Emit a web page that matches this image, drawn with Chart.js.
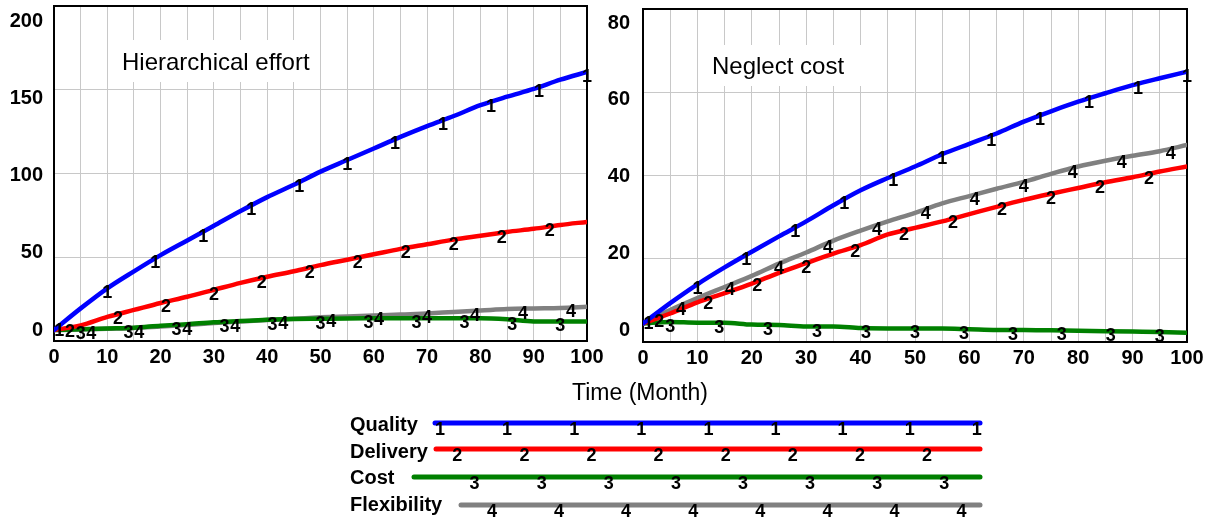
<!DOCTYPE html>
<html>
<head>
<meta charset="utf-8">
<script src="https://cdn.jsdelivr.net/npm/chart.js@4"></script>
<style>
    body { margin: 0; background: #fff; width: 1214px; height: 517px; position: relative; overflow: hidden;
           font-family: "Liberation Sans", Arial, sans-serif; }
    .panel { position: absolute; top: 0; height: 380px; }
    #timeLabel { position: absolute; left: 540px; width: 200px; top: 379px; line-height: 26px;
                 text-align: center; font-size: 23px; color: #000; }
    #legend { position: absolute; left: 0; top: 400px; }
</style>
</head>
<body>
<div class="panel" style="left:0;width:620px"><canvas id="effortChart" width="620" height="380"></canvas></div>
<div class="panel" style="left:600px;width:614px"><canvas id="neglectChart" width="614" height="380"></canvas></div>
<div id="timeLabel">Time (Month)</div>
<canvas id="legend" width="1214" height="117"></canvas>

<script>
// Time axis (months) shared by all series
const months = [0, 5, 10, 15, 20, 25, 30, 35, 40, 45, 50, 55, 60, 65, 70, 75, 80, 85, 90, 95, 100];

const seriesNames = ['Quality', 'Delivery', 'Cost', 'Flexibility'];
const seriesColors = ['#0000ff', '#ff0000', '#008000', '#808080'];

// Hierarchical effort panel
const effortQuality = [0, 14, 27, 38, 48.5, 58, 67.5, 77, 86, 94, 102.5, 110, 117.5, 125, 132, 138.5, 145.5, 151, 156, 162, 167];
const effortDelivery = [0, 3, 8.5, 13, 17.5, 21.5, 26, 30.5, 34.5, 38, 42, 45.5, 49, 52.5, 55.5, 58.5, 61, 63.5, 65.5, 68, 70];
const effortCost = [0, 0.5, 1, 1.5, 2.8, 3.8, 5, 5.8, 6.6, 7.1, 7.3, 7.5, 7.6, 7.7, 7.7, 7.7, 7.7, 7.0, 5.6, 5.5, 5.5];
const effortFlexibility = [0, 0.3, 0.8, 1.3, 2.3, 3.3, 4.5, 5.5, 6.5, 7.3, 8.2, 8.8, 9.4, 10, 10.7, 11.7, 12.6, 13.6, 14, 14.3, 15];
const effortTicks = [0, 50, 100, 150, 200];

// Neglect cost panel
const neglectQuality = [1.7, 7, 11.9, 16.3, 20.4, 24.4, 28.3, 32.5, 36.4, 39.6, 42.6, 45.8, 48.5, 51.2, 54.3, 57, 59.5, 61.7, 63.8, 65.6, 67.3];
const neglectDelivery = [1.7, 4.3, 7.2, 9.6, 12.1, 14.9, 17.4, 19.9, 22.1, 24.9, 26.6, 28.3, 30.2, 32.1, 33.9, 35.5, 37, 38.5, 39.8, 41.3, 42.6];
const neglectCost = [1.7, 2.1, 1.9, 1.9, 1.4, 1.3, 0.9, 0.9, 0.5, 0.4, 0.4, 0.4, 0.2, 0, 0, -0.1, -0.2, -0.3, -0.4, -0.5, -0.7];
const neglectFlexibility = [1.7, 5.2, 8.3, 11.2, 14.1, 17.3, 20.2, 23.3, 25.9, 28.3, 30.5, 33, 34.9, 36.8, 38.6, 40.7, 42.6, 44.1, 45.4, 46.6, 48.2];
const neglectTicks = [0, 20, 40, 60, 80];

const FONT = '"Liberation Sans", Arial, sans-serif';
const GRID = '#c8c8c8';
const CLEAR = 'rgba(0,0,0,0)';

// Linear interpolation along a series
function valueAt(values, t) {
    for (let k = 1; k < months.length; k++) {
        if (t <= months[k]) {
            const f = (t - months[k - 1]) / (months[k] - months[k - 1]);
            return values[k - 1] + f * (values[k] - values[k - 1]);
        }
    }
    return values[values.length - 1];
}

// Vensim-style series numbers along each line
const lineNumbers = {
    id: 'lineNumbers',
    afterDatasetsDraw(chart) {
        const ctx = chart.ctx;
        const xs = chart.scales.x, ys = chart.scales.y;
        ctx.save();
        ctx.font = 'bold 18px ' + FONT;
        ctx.fillStyle = '#000';
        ctx.textAlign = 'center';
        ctx.textBaseline = 'middle';
        chart.data.datasets.forEach((ds, i) => {
            for (let t = 1 + 2 * i; t <= 100; t += 9) {
                const v = valueAt(ds.values, t);
                ctx.fillText(String(i + 1), xs.getPixelForValue(t), ys.getPixelForValue(v) + 5);
            }
        });
        ctx.restore();
    }
};

// White caption box inside the plot
const captionBox = {
    id: 'captionBox',
    beforeDatasetsDraw(chart, args, opts) {
        const a = chart.chartArea, ctx = chart.ctx;
        ctx.save();
        ctx.fillStyle = '#fff';
        ctx.fillRect(a.left + opts.box[0], a.top + opts.box[1], opts.box[2], opts.box[3]);
        ctx.font = '24px ' + FONT;
        ctx.fillStyle = '#000';
        ctx.textBaseline = 'alphabetic';
        ctx.fillText(opts.text, a.left + opts.textX, a.top + opts.textY);
        ctx.restore();
    }
};

function makeChart(id, caption, series, ticks, dataMin, dataMax, size) {
    const tickFont = { family: FONT, size: 20, weight: 'bold' };
    const top = ticks[ticks.length - 1];
    return new Chart(document.getElementById(id), {
        type: 'line',
        data: {
            datasets: series.map((vals, i) => ({
                label: seriesNames[i],
                values: vals,
                data: months.map((m, k) => ({ x: m, y: vals[k] })),
                borderColor: seriesColors[i],
                borderWidth: 4.5,
                pointRadius: 0,
                cubicInterpolationMode: 'monotone',
                borderCapStyle: 'round',
                borderJoinStyle: 'round'
            }))
        },
        options: {
            responsive: false,
            animation: false,
            devicePixelRatio: 1,
            layout: { padding: { left: 0, top: size.top, right: size.right, bottom: 0 } },
            plugins: {
                legend: { display: false },
                tooltip: { enabled: false },
                captionBox: caption
            },
            scales: {
                x: {
                    type: 'linear', position: 'bottom', min: 0, max: 100,
                    ticks: {
                        stepSize: 5, autoSkip: false, maxRotation: 0, padding: 4, color: '#000', font: tickFont,
                        callback: v => (v % 10 === 0 ? v : '')
                    },
                    grid: {
                        drawTicks: false, lineWidth: 1,
                        color: c => (c.tick && (c.tick.value === 0 || c.tick.value === 100)) ? CLEAR : GRID
                    },
                    border: { color: '#000', width: 2 },
                    afterFit: s => { s.height = size.xHeight; s.paddingLeft = 0; s.paddingRight = 0; }
                },
                y: {
                    position: 'left', min: dataMin, max: dataMax,
                    afterBuildTicks: s => { s.ticks = ticks.map(v => ({ value: v })); },
                    ticks: { padding: size.yPad, color: '#000', font: tickFont },
                    grid: { display: false, drawTicks: false },
                    border: { color: '#000', width: 2 },
                    afterFit: s => { s.width = size.yWidth; s.paddingTop = 0; s.paddingBottom = 0; }
                },
                yGrid: {
                    position: 'right', min: 0, max: top,
                    ticks: { display: false, stepSize: top / 4 },
                    grid: {
                        drawTicks: false, lineWidth: 1,
                        color: c => (c.tick && (c.tick.value === 0 || c.tick.value === top)) ? CLEAR : GRID
                    },
                    border: { color: '#000', width: 2 },
                    afterFit: s => { s.width = 0; s.paddingTop = 0; s.paddingBottom = 0; }
                },
                xTop: {
                    type: 'linear', position: 'top', min: 0, max: 100,
                    ticks: { display: false },
                    grid: { display: false, drawTicks: false },
                    border: { color: '#000', width: 2 },
                    afterFit: s => { s.height = 0; s.paddingLeft = 0; s.paddingRight = 0; }
                }
            }
        },
        plugins: [captionBox, lineNumbers]
    });
}

makeChart('effortChart',
    { text: 'Hierarchical effort', box: [58, 34, 206, 42], textX: 68, textY: 64 },
    [effortQuality, effortDelivery, effortCost, effortFlexibility],
    effortTicks, -7.1, 209.7,
    { top: 6, right: 33, xHeight: 39, yWidth: 54, yPad: 11 });

makeChart('neglectChart',
    { text: 'Neglect cost', box: [62, 36, 167, 41], textX: 69, textY: 65 },
    [neglectQuality, neglectDelivery, neglectCost, neglectFlexibility],
    neglectTicks, -3.13, 83.65,
    { top: 9, right: 27, xHeight: 38, yWidth: 43, yPad: 13 });

// Legend below the charts
function drawLegend() {
    const ctx = document.getElementById('legend').getContext('2d');
    const lineY = [23, 49, 77, 105];
    const textBase = [31, 58, 84, 111];
    const lineStart = [435, 436, 414, 461];
    const lineEnd = 980;
    seriesNames.forEach((name, i) => {
        ctx.font = 'bold 20px ' + FONT;
        ctx.fillStyle = '#000';
        ctx.textAlign = 'left';
        ctx.textBaseline = 'alphabetic';
        ctx.fillText(name, 350, textBase[i]);

        ctx.strokeStyle = seriesColors[i];
        ctx.lineWidth = 5;
        ctx.lineCap = 'round';
        ctx.beginPath();
        ctx.moveTo(lineStart[i], lineY[i]);
        ctx.lineTo(lineEnd, lineY[i]);
        ctx.stroke();

        ctx.font = 'bold 18px ' + FONT;
        ctx.textAlign = 'center';
        ctx.textBaseline = 'middle';
        for (let x = 440 + 17.3 * i; x <= lineEnd; x += 67.1) {
            ctx.fillText(String(i + 1), x, lineY[i] + 7);
        }
    });
}
drawLegend();
</script>
</body>
</html>
